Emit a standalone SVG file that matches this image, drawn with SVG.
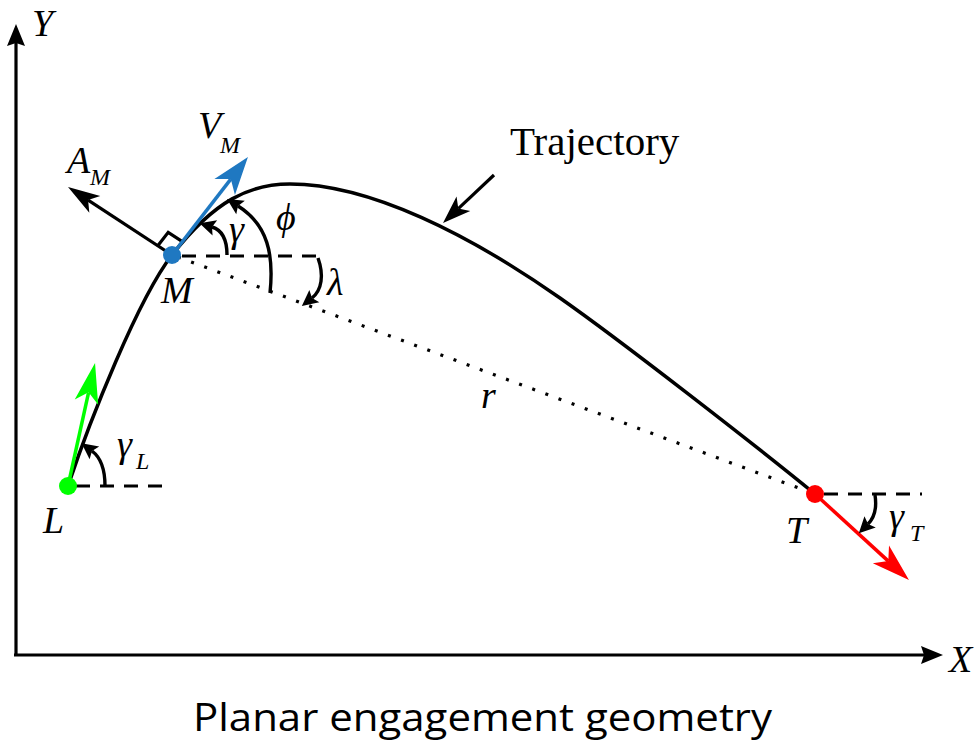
<svg xmlns="http://www.w3.org/2000/svg" width="975" height="741" viewBox="0 0 975 741">
<style>
.ln{fill:none;stroke:#000;stroke-width:3.2}
.crv{fill:none;stroke:#000;stroke-width:3.5}
.dash{fill:none;stroke:#000;stroke-width:3;stroke-dasharray:14 10}
.dot{fill:none;stroke:#000;stroke-width:3.2;stroke-dasharray:3 11}
.arc{fill:none;stroke:#000;stroke-width:3.4;marker-end:url(#ah-arc)}
.lbl{font-family:"Liberation Serif","Times New Roman",serif;font-style:italic;font-size:38px;fill:#000}
.sub{font-family:"Liberation Serif","Times New Roman",serif;font-style:italic;font-size:24px;fill:#000}
.txt{font-family:"Liberation Serif","Times New Roman",serif;font-size:41px;fill:#000}
.cap{font-family:"Open Sans","Liberation Sans",sans-serif;font-size:39px;fill:#000}
</style>
<defs>
<marker id="ah-axis" markerUnits="userSpaceOnUse" markerWidth="30" markerHeight="30" refX="3" refY="0" orient="auto" overflow="visible"><path d="M0,-9 L22,0 L0,9 L3,0 Z" fill="#000"/></marker>
<marker id="ah-am" markerUnits="userSpaceOnUse" markerWidth="40" markerHeight="30" refX="8" refY="0" orient="auto" overflow="visible"><path d="M0,-10 L32,0 L0,10 L8,0 Z" fill="#000"/></marker>
<marker id="ah-vm" markerUnits="userSpaceOnUse" markerWidth="40" markerHeight="30" refX="10" refY="0" orient="auto" overflow="visible"><path d="M0,-13 L38,0 L0,13 L10,0 Z" fill="#1F78C1"/></marker>
<marker id="ah-g" markerUnits="userSpaceOnUse" markerWidth="40" markerHeight="30" refX="10" refY="0" orient="auto" overflow="visible"><path d="M0,-12 L40,0 L0,12 L10,0 Z" fill="#00FF00"/></marker>
<marker id="ah-r" markerUnits="userSpaceOnUse" markerWidth="40" markerHeight="30" refX="10" refY="0" orient="auto" overflow="visible"><path d="M0,-12 L38,0 L0,12 L10,0 Z" fill="#FF0000"/></marker>
<marker id="ah-tr" markerUnits="userSpaceOnUse" markerWidth="40" markerHeight="30" refX="7" refY="0" orient="auto" overflow="visible"><path d="M0,-10 L28,0 L0,10 L7,0 Z" fill="#000"/></marker>
<marker id="ah-arc" markerUnits="userSpaceOnUse" markerWidth="20" markerHeight="20" refX="3" refY="0" orient="auto" overflow="visible"><path d="M0,-8 L16,0 L0,8 L3,0 Z" fill="#000"/></marker>
</defs>
<rect width="975" height="741" fill="#fff"/>

<g id="axes">
<path class="ln" d="M16,656 L16,43" marker-end="url(#ah-axis)"/>
<path class="ln" d="M14,655 L924,655" marker-end="url(#ah-axis)"/>
<text class="lbl" x="32" y="36">Y</text>
<text class="lbl" x="949" y="672">X</text>
</g>

<g id="connectors">
<path id="trajectory" class="crv" d="M68,486 C90,420 138,299 172,255 C215,200 250,184 290,184 C370,184 470,235 560,298 C620,340 755,445 815,494"/>
<path id="los" class="dot" d="M178,257 L812,493"/>
<path class="dash" d="M182,256 L320,256"/>
<path class="dash" d="M76,486 L165,486"/>
<path class="dash" d="M824,494 L922,494"/>
<path id="traj-pointer" class="ln" d="M494,175 L458.3,208.6" marker-end="url(#ah-tr)"/>
<path id="a-m" class="ln" d="M172,255 L88.1,200.1" marker-end="url(#ah-am)"/>
<polyline id="right-angle" class="ln" points="157.8,245.7 168.2,232.3 182.4,241.6"/>
<path id="v-m" d="M172,255 L230.8,179.1" fill="none" stroke="#1F78C1" stroke-width="3.5" marker-end="url(#ah-vm)"/>
<path id="v-l" d="M68,486 L88.6,392.3" fill="none" stroke="#00FF00" stroke-width="3.5" marker-end="url(#ah-g)"/>
<path id="v-t" d="M815,494 L888.3,561.1" fill="none" stroke="#FF0000" stroke-width="3.5" marker-end="url(#ah-r)"/>
<path id="arc-gamma" class="arc" d="M227,255 C227,240 222,230 212,227"/>
<path id="arc-phi" class="arc" d="M270,293 C274,255 268,225 238,206"/>
<path id="arc-lambda" class="arc" d="M318,258 C324,275 322,290 312,298"/>
<path id="arc-gamma-l" class="arc" d="M105,486 C105,468 100,457 92,451"/>
<path id="arc-gamma-t" class="arc" d="M875,495 C877,508 875,517 868,524"/>
</g>

<g id="node-L">
<circle cx="68" cy="486" r="9" fill="#00FF00"/>
<text class="lbl" x="43" y="533">L</text>
<text class="lbl" x="117" y="457">γ</text>
<text class="sub" x="136" y="469">L</text>
</g>

<g id="node-M">
<circle cx="172" cy="255" r="9" fill="#1F78C1"/>
<text class="lbl" x="161" y="303">M</text>
<text class="lbl" x="198" y="138">V</text>
<text class="sub" x="220" y="153">M</text>
<text class="lbl" x="67" y="173">A</text>
<text class="sub" x="90" y="185">M</text>
<text class="lbl" x="229" y="242">γ</text>
<text class="lbl" x="276" y="230">ϕ</text>
<text class="lbl" x="327" y="295">λ</text>
</g>

<g id="node-T">
<circle cx="815" cy="494" r="9" fill="#FF0000"/>
<text class="lbl" x="786" y="543">T</text>
<text class="lbl" x="889" y="529">γ</text>
<text class="sub" x="910" y="541">T</text>
</g>

<g id="labels">
<text class="lbl" x="481" y="408">r</text>
<text class="txt" x="510" y="155">Trajectory</text>
<text class="cap" x="193" y="731" textLength="579" lengthAdjust="spacingAndGlyphs">Planar engagement geometry</text>
</g>
</svg>
